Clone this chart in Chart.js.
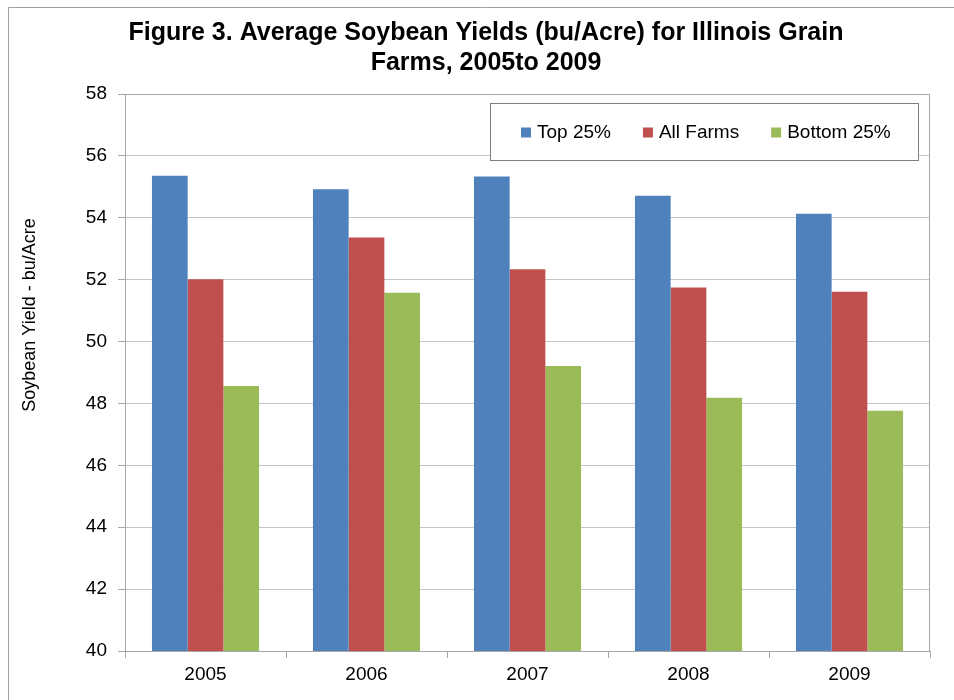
<!DOCTYPE html>
<html>
<head>
<meta charset="utf-8">
<script src="https://cdn.jsdelivr.net/npm/chart.js@4.4.1/dist/chart.umd.min.js"></script>
<style>
  html, body { margin: 0; padding: 0; background: #fff; }
  #wrap { width: 954px; height: 700px; }
</style>
</head>
<body>
<div id="wrap"><canvas id="chart" width="954" height="700"></canvas></div>
<script>
// data
const years = ['2005', '2006', '2007', '2008', '2009'];
const top25 = [55.36, 54.92, 55.33, 54.71, 54.13];
const allFarms = [52.01, 53.36, 52.34, 51.75, 51.61];
const bottom25 = [48.56, 51.58, 49.21, 48.18, 47.76];
const seriesNames = ['Top 25%', 'All Farms', 'Bottom 25%'];
const titleLines = ['Figure 3. Average Soybean Yields (bu/Acre) for Illinois Grain', 'Farms, 2005to 2009'];
const yTitle = 'Soybean Yield - bu/Acre';

const FONT = '"Liberation Sans", Arial, sans-serif';
const GRID = '#c4c4c4';
const AXIS = '#a6a6a6';

/**
 * Frame round the whole figure (only left and top edges are in view)
 */
const frame = {
    id: 'frame',
    beforeDraw(chart) {
        const ctx = chart.ctx;
        ctx.save();
        ctx.fillStyle = '#fff';
        ctx.fillRect(0, 0, chart.width, chart.height);
        ctx.strokeStyle = '#a0a0a0';
        ctx.lineWidth = 1;
        ctx.beginPath();
        ctx.moveTo(8.5, chart.height);
        ctx.lineTo(8.5, 7.5);
        ctx.lineTo(chart.width, 7.5);
        ctx.stroke();
        ctx.restore();
    }
};

/**
 * Plot box, rotated y title and the boxed legend inside the plot
 */
const extras = {
    id: 'extras',
    afterDraw(chart) {
        const ctx = chart.ctx;
        const a = chart.chartArea;
        ctx.save();

        // box round the plot area
        ctx.strokeStyle = AXIS;
        ctx.lineWidth = 1;
        ctx.strokeRect(Math.round(a.left) + 0.5, Math.round(a.top) + 0.5,
            Math.round(a.right - a.left) - 1, Math.round(a.bottom - a.top));

        // y axis title, sits a bit above the middle like in the original
        ctx.fillStyle = '#000';
        ctx.font = '18px ' + FONT;
        ctx.textAlign = 'center';
        ctx.textBaseline = 'middle';
        ctx.translate(30, 315);
        ctx.rotate(-Math.PI / 2);
        ctx.fillText(yTitle, 0, 0);
        ctx.setTransform(1, 0, 0, 1, 0, 0);

        // legend box
        const bx = 490, by = 103, bw = 428, bh = 57;
        ctx.fillStyle = '#fff';
        ctx.fillRect(bx, by, bw, bh);
        ctx.strokeStyle = '#808080';
        ctx.strokeRect(bx + 0.5, by + 0.5, bw, bh);

        ctx.font = '19px ' + FONT;
        ctx.textAlign = 'left';
        ctx.textBaseline = 'middle';
        let x = 521;
        const cy = by + bh / 2 + 1;
        chart.data.datasets.forEach(ds => {
            ctx.fillStyle = ds.backgroundColor;
            ctx.fillRect(x, cy - 5, 10, 10);
            x += 16;
            ctx.fillStyle = '#000';
            ctx.fillText(ds.label, x, cy);
            x += ctx.measureText(ds.label).width + 32;
        });
        ctx.restore();
    }
};

new Chart(document.getElementById('chart'), {
    type: 'bar',
    data: {
        labels: years,
        datasets: [
            { label: seriesNames[0], data: top25, backgroundColor: '#4F81BD' },
            { label: seriesNames[1], data: allFarms, backgroundColor: '#C0504D' },
            { label: seriesNames[2], data: bottom25, backgroundColor: '#9BBB59' }
        ]
    },
    options: {
        responsive: false,
        animation: false,
        devicePixelRatio: 1,
        categoryPercentage: 0.665,
        barPercentage: 1,
        layout: {
            padding: { left: 42, right: 24, top: 0, bottom: 0 }
        },
        plugins: {
            legend: { display: false },
            tooltip: { enabled: false },
            title: {
                display: true,
                text: titleLines,
                color: '#000',
                font: { family: FONT, size: 25, weight: 'bold', lineHeight: 1.2 },
                padding: { top: 18, bottom: 16 }
            }
        },
        scales: {
            x: {
                grid: {
                    offset: true,
                    drawOnChartArea: false,
                    drawTicks: true,
                    tickLength: 7,
                    color: AXIS
                },
                border: { color: AXIS },
                ticks: {
                    color: '#000',
                    padding: 5,
                    font: { family: FONT, size: 19 }
                },
                afterFit(scale) { scale.height = 49; }
            },
            y: {
                min: 40,
                max: 58,
                grid: {
                    color: GRID,
                    tickLength: 7,
                    tickColor: AXIS
                },
                border: { color: AXIS },
                ticks: {
                    stepSize: 2,
                    color: '#000',
                    padding: 11,
                    font: { family: FONT, size: 19 }
                },
                afterFit(scale) { scale.width = 83; }
            }
        }
    },
    plugins: [frame, extras]
});
</script>
</body>
</html>
